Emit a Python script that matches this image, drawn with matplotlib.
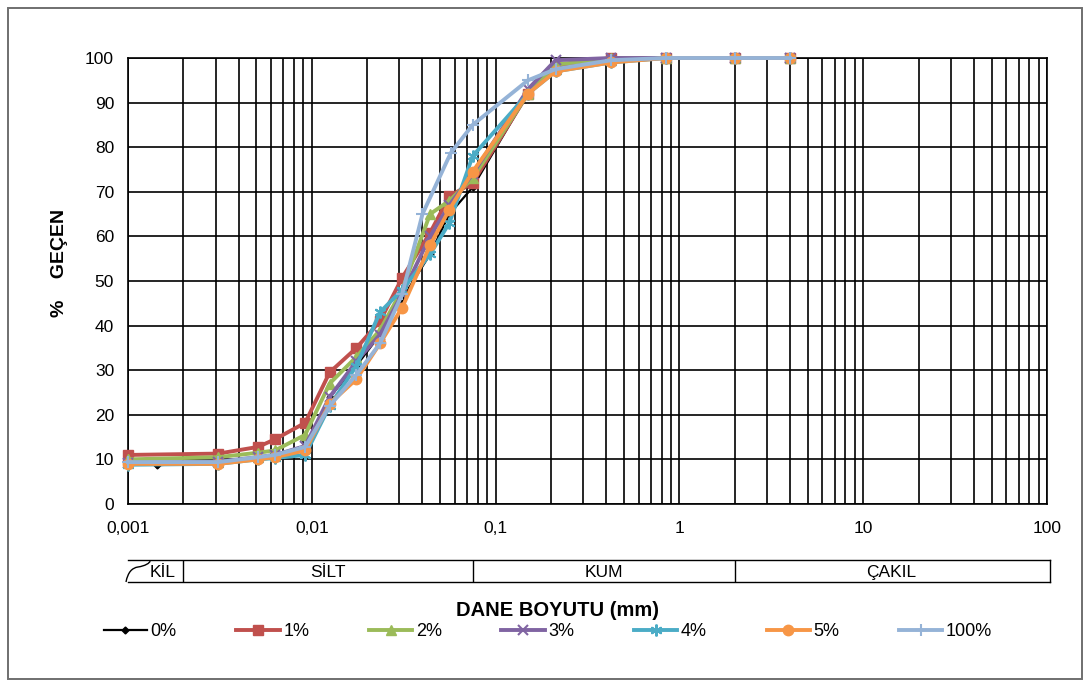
"""
Grain size distribution (dane boyutu dağılımı) for the additive series.
Writes out.png.
"""

import matplotlib.pyplot as plt
from matplotlib.patches import Rectangle
from matplotlib.path import Path
from matplotlib.patches import PathPatch
from matplotlib.ticker import FixedLocator, FuncFormatter, LogLocator, NullFormatter

plt.rcParams["font.family"] = ["Liberation Sans", "DejaVu Sans"]

# --- Data -------------------------------------------------------------------
# sieve openings (mm), coarse to fine
D_SIEVE = [4.0, 2.0, 0.85, 0.425, 0.212, 0.15, 0.075]
# hydrometer equivalent diameters (mm)
D_HYDRO = [0.056, 0.044, 0.031, 0.0235, 0.0175, 0.0125, 0.0092, 0.0063, 0.0051, 0.0031, 0.001]
D_HYDRO_0 = [0.056, 0.044, 0.031, 0.0235, 0.0175, 0.0125, 0.0092, 0.0063, 0.0051, 0.0031, 0.00144]
D_HYDRO_100 = [0.057, 0.040, 0.031, 0.0235, 0.0175, 0.0125, 0.0092, 0.0063, 0.0051, 0.0031, 0.001]

# % passing: sieve part then hydrometer part
PASS_0 = [100, 100, 100, 100, 98, 92, 71] + [65, 56, 46, 38, 31, 24, 12, 10.5, 10, 9.3, 8.7]
PASS_1 = [100, 100, 100, 100, 98, 92, 72] + [69, 60.8, 50.7, 41, 35, 29.5, 18.2, 14.5, 12.8, 11.3, 11]
PASS_2 = [100, 100, 100, 100, 98.5, 92, 73] + [68, 65, 48, 39, 33, 27, 15.5, 12, 11.5, 10.5, 10]
PASS_3 = [100, 100, 100, 100, 99.5, 93, 74] + [67, 60, 47, 38, 32, 24, 13, 11, 10.5, 9.5, 9.2]
PASS_4 = [100, 100, 100, 99, 97, 92, 78] + [63, 56, 48, 43, 31, 22, 11, 10.3, 10, 9, 8.8]
PASS_5 = [100, 100, 100, 99, 97, 92, 74.5] + [66, 58, 44, 36, 28, 22.5, 12, 10.5, 10, 9, 9]
PASS_100 = [100, 100, 100, 99.5, 97.5, 95, 85] + [78.7, 65, 47, 36, 29, 22, 12.8, 11, 10.5, 9.4, 9.4]

LABELS = ["0%", "1%", "2%", "3%", "4%", "5%", "100%"]

# soil class limits (mm) and names for the strip under the x axis
CLASS_LIMITS = [0.002, 0.075, 2.0]
CLASS_NAMES = ["KİL", "SİLT", "KUM", "ÇAKIL"]

X_TICKS = [0.001, 0.01, 0.1, 1, 10, 100]

# --- Styling (Excel 2010 palette) --------------------------------------------
STYLES = [
    dict(color="black", marker="D", ms=3.5, lw=1.6),
    dict(color="#C0504D", marker="s", ms=7.5, lw=2.8),
    dict(color="#9BBB59", marker="^", ms=7.5, lw=2.8),
    dict(color="#8064A2", marker="x", ms=7.5, lw=2.8, mew=1.5),
    dict(color="#4BACC6", marker=(6, 2, 0), ms=8.5, lw=2.8, mew=1.5),
    dict(color="#F79646", marker="o", ms=7.5, lw=2.8),
    dict(color="#95B3D7", marker="+", ms=9, lw=2.8, mew=1.5),
]

W, H = 1090, 684


def fx(px):
    return px / W


def fy(py):
    return 1 - py / H


def main() -> None:
    fig = plt.figure(figsize=(W / 100, H / 100), dpi=100)

    # outer chart border
    fig.patches.append(Rectangle((fx(8), fy(679)), fx(1074), 671 / H,
                                 transform=fig.transFigure, fill=False,
                                 edgecolor="#6f6f6f", linewidth=1.4))

    ax = fig.add_axes([fx(128), fy(504), fx(919), 446 / H])
    series = [
        (D_SIEVE + D_HYDRO_0, PASS_0),
        (D_SIEVE + D_HYDRO, PASS_1),
        (D_SIEVE + D_HYDRO, PASS_2),
        (D_SIEVE + D_HYDRO, PASS_3),
        (D_SIEVE + D_HYDRO, PASS_4),
        (D_SIEVE + D_HYDRO, PASS_5),
        (D_SIEVE + D_HYDRO_100, PASS_100),
    ]
    handles = []
    for (d, p), label, st in zip(series, LABELS, STYLES):
        st = dict(st)
        color = st.pop("color")
        (ln,) = ax.plot(d, p, color=color, mfc=color, mec=color, label=label,
                        clip_on=False, zorder=3, **st)
        handles.append(ln)

    ax.set_xscale("log")
    ax.set_xlim(0.001, 100)
    ax.set_ylim(0, 100)
    ax.xaxis.set_major_locator(FixedLocator(X_TICKS))
    ax.xaxis.set_minor_locator(LogLocator(base=10, subs=range(2, 10), numticks=20))
    ax.xaxis.set_minor_formatter(NullFormatter())
    ax.xaxis.set_major_formatter(
        FuncFormatter(lambda v, _: f"{v:g}".replace(".", ",")))
    ax.set_yticks(range(0, 101, 10))
    ax.grid(which="both", axis="x", color="black", linewidth=1.2)
    ax.grid(which="major", axis="y", color="black", linewidth=1.2)
    ax.set_axisbelow(True)
    for s in ax.spines.values():
        s.set_color("black")
        s.set_linewidth(1.2)
    ax.tick_params(which="both", length=0, labelsize=12.5, colors="black")
    ax.tick_params(axis="x", pad=12)
    ax.tick_params(axis="y", pad=10)

    fig.text(fx(60), fy(263), "%    GEÇEN", rotation=90, ha="center",
             va="center", fontsize=14, fontweight="bold")

    # soil class strip
    axb = fig.add_axes([fx(128), fy(582), fx(922), 22 / H])
    axb.set_xscale("log")
    axb.set_xlim(0.001, 100 * 10 ** (3 / 184))
    axb.set_ylim(0, 1)
    axb.set_xticks([])
    axb.set_yticks([])
    axb.minorticks_off()
    for s in axb.spines.values():
        s.set_linewidth(1.0)
    axb.spines["left"].set_visible(False)
    for lim in CLASS_LIMITS:
        axb.axvline(lim, color="black", linewidth=1.0)
    edges = [0.001] + CLASS_LIMITS + [100]
    for i, name in enumerate(CLASS_NAMES):
        lo, hi = edges[i], edges[i + 1]
        xc = (lo * hi) ** 0.5
        if i == 0:
            xc = lo * 10 ** 0.19
        axb.text(xc, 0.45, name, ha="center", va="center", fontsize=12.5)
    # little curl in front of KİL
    verts = [(fx(126), fy(582)), (fx(128), fy(572)), (fx(132), fy(568)),
             (fx(138), fy(567)), (fx(145), fy(566)), (fx(150), fy(563)),
             (fx(150), fy(561))]
    codes = [Path.MOVETO, Path.CURVE4, Path.CURVE4, Path.CURVE4,
             Path.CURVE4, Path.CURVE4, Path.CURVE4]
    fig.patches.append(PathPatch(Path(verts, codes), transform=fig.transFigure,
                                 fill=False, edgecolor="black", linewidth=1.0))

    fig.text(fx(557), fy(610), "DANE BOYUTU (mm)", ha="center", va="center",
             fontsize=14.5, fontweight="bold")

    fig.legend(handles=handles, loc="center", bbox_to_anchor=(fx(548), fy(632)),
               ncol=7, frameon=False, fontsize=13, handlelength=2.4,
               handletextpad=0.2, columnspacing=3.3)

    fig.savefig("out.png", dpi=100)
    plt.close(fig)


if __name__ == "__main__":
    main()
